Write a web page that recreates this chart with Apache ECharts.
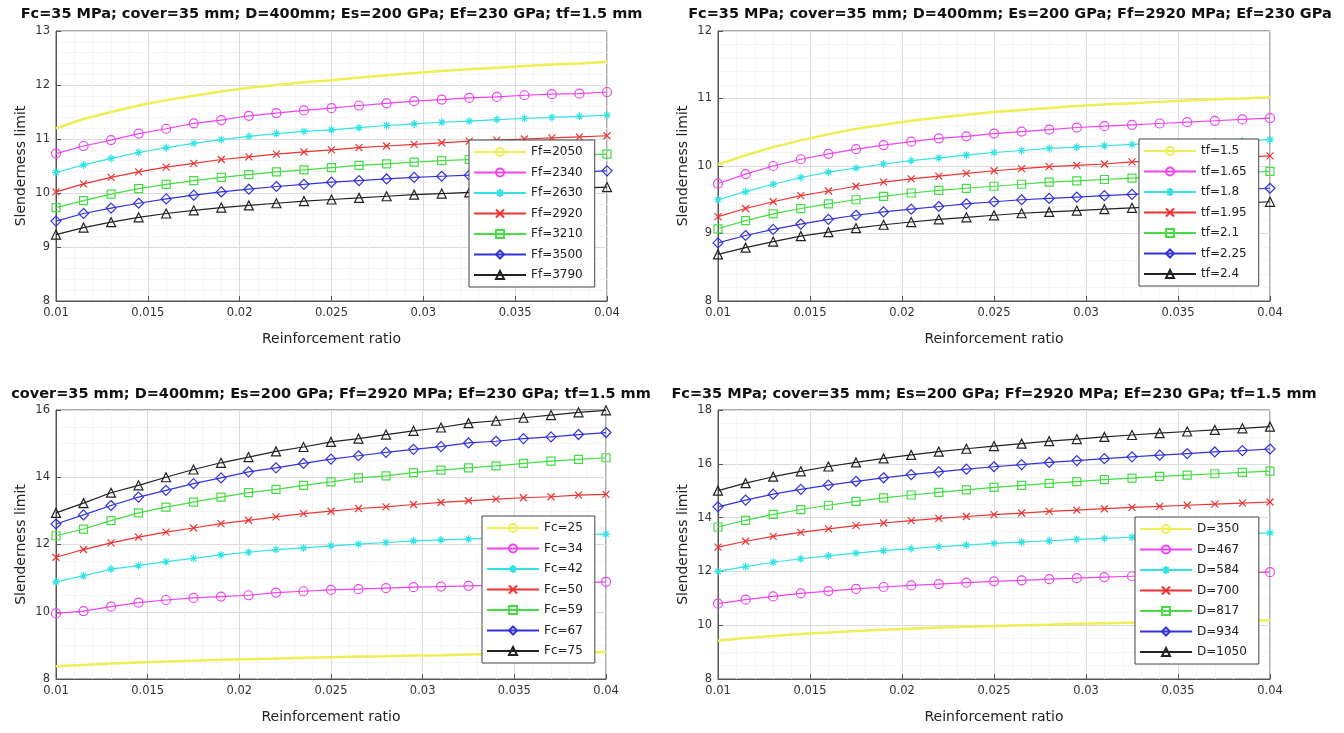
<!DOCTYPE html>
<html><head><meta charset="utf-8">
<script src="https://cdn.jsdelivr.net/npm/echarts@6/dist/echarts.min.js"></script>
<style>html,body{margin:0;padding:0;background:#fff}#c{width:1344px;height:733px}</style>
</head><body><div id="c"></div>
<script>
// ---- data ----
const ratio = [0.01,0.0115,0.013,0.0145,0.016,0.0175,0.019,0.0205,0.022,0.0235,0.025,0.0265,0.028,0.0295,0.031,0.0325,0.034,0.0355,0.037,0.0385,0.04];

const titles = [
  'Fc=35 MPa; cover=35 mm; D=400mm; Es=200 GPa; Ef=230 GPa; tf=1.5 mm',
  'Fc=35 MPa; cover=35 mm; D=400mm; Es=200 GPa; Ff=2920 MPa; Ef=230 GPa',
  'cover=35 mm; D=400mm; Es=200 GPa; Ff=2920 MPa; Ef=230 GPa; tf=1.5 mm',
  'Fc=35 MPa; cover=35 mm; Es=200 GPa; Ff=2920 MPa; Ef=230 GPa; tf=1.5 mm'
];
const xName = 'Reinforcement ratio';
const yName = 'Slenderness limit';

// panel 1 : Ff
const namesFf = ['Ff=2050','Ff=2340','Ff=2630','Ff=2920','Ff=3210','Ff=3500','Ff=3790'];
const ff2050 = [11.2,11.37,11.5,11.62,11.72,11.8,11.88,11.95,12.0,12.05,12.09,12.14,12.18,12.22,12.26,12.29,12.32,12.35,12.38,12.4,12.43];
const ff2340 = [10.73,10.87,10.98,11.1,11.19,11.29,11.35,11.43,11.48,11.53,11.57,11.62,11.66,11.7,11.73,11.76,11.78,11.81,11.83,11.84,11.87];
const ff2630 = [10.38,10.52,10.64,10.75,10.84,10.92,10.99,11.05,11.1,11.14,11.17,11.21,11.25,11.28,11.31,11.33,11.36,11.38,11.4,11.42,11.44];
const ff2920 = [10.02,10.17,10.29,10.39,10.48,10.55,10.62,10.67,10.72,10.76,10.8,10.84,10.87,10.9,10.93,10.96,10.98,11.0,11.02,11.04,11.06];
const ff3210 = [9.73,9.86,9.98,10.08,10.16,10.23,10.29,10.34,10.39,10.43,10.47,10.51,10.54,10.57,10.6,10.62,10.64,10.66,10.68,10.7,10.72];
const ff3500 = [9.48,9.62,9.72,9.81,9.89,9.96,10.02,10.07,10.12,10.16,10.2,10.23,10.26,10.29,10.31,10.33,10.35,10.37,10.38,10.39,10.41];
const ff3790 = [9.23,9.36,9.46,9.55,9.62,9.68,9.73,9.77,9.81,9.85,9.88,9.91,9.94,9.97,9.99,10.01,10.03,10.05,10.07,10.09,10.11];

// panel 2 : tf
const namesTf = ['tf=1.5','tf=1.65','tf=1.8','tf=1.95','tf=2.1','tf=2.25','tf=2.4'];
const tf150 = [10.02,10.16,10.28,10.38,10.47,10.55,10.61,10.67,10.72,10.76,10.8,10.83,10.86,10.89,10.91,10.93,10.95,10.97,10.99,11.0,11.02];
const tf165 = [9.74,9.88,10.0,10.1,10.18,10.25,10.31,10.36,10.41,10.44,10.48,10.51,10.54,10.57,10.59,10.61,10.63,10.65,10.67,10.69,10.71];
const tf180 = [9.5,9.62,9.73,9.83,9.91,9.97,10.03,10.08,10.12,10.16,10.2,10.23,10.26,10.28,10.3,10.32,10.34,10.35,10.36,10.37,10.39];
const tf195 = [9.25,9.37,9.47,9.56,9.63,9.7,9.76,9.81,9.85,9.89,9.93,9.96,9.99,10.01,10.03,10.06,10.08,10.1,10.12,10.13,10.15];
const tf210 = [9.07,9.19,9.29,9.37,9.44,9.5,9.55,9.6,9.64,9.67,9.7,9.73,9.76,9.78,9.8,9.82,9.84,9.86,9.88,9.9,9.92];
const tf225 = [8.86,8.97,9.06,9.14,9.21,9.27,9.32,9.36,9.4,9.44,9.47,9.5,9.52,9.54,9.56,9.58,9.6,9.62,9.63,9.65,9.67];
const tf240 = [8.69,8.79,8.88,8.96,9.02,9.08,9.13,9.17,9.21,9.24,9.27,9.3,9.32,9.34,9.36,9.38,9.4,9.42,9.44,9.45,9.47];

// panel 3 : Fc
const namesFc = ['Fc=25','Fc=34','Fc=42','Fc=50','Fc=59','Fc=67','Fc=75'];
const fc25 = [8.38,8.42,8.46,8.49,8.52,8.54,8.57,8.59,8.61,8.63,8.65,8.67,8.68,8.7,8.71,8.73,8.74,8.76,8.77,8.78,8.8];
const fc34 = [9.95,10.02,10.15,10.27,10.35,10.41,10.45,10.49,10.57,10.61,10.65,10.67,10.7,10.73,10.75,10.77,10.79,10.81,10.84,10.86,10.89];
const fc42 = [10.89,11.07,11.27,11.37,11.49,11.59,11.69,11.77,11.85,11.9,11.96,12.01,12.06,12.11,12.14,12.16,12.2,12.23,12.26,12.29,12.31];
const fc50 = [11.62,11.85,12.05,12.22,12.37,12.49,12.62,12.72,12.82,12.92,12.99,13.07,13.12,13.19,13.25,13.3,13.35,13.39,13.42,13.47,13.49];
const fc59 = [12.26,12.46,12.71,12.94,13.11,13.26,13.41,13.54,13.64,13.76,13.86,13.98,14.04,14.14,14.21,14.28,14.34,14.41,14.48,14.53,14.58];
const fc67 = [12.61,12.88,13.16,13.41,13.61,13.81,13.98,14.16,14.28,14.41,14.54,14.64,14.74,14.83,14.91,15.02,15.07,15.15,15.2,15.27,15.33];
const fc75 = [12.94,13.23,13.54,13.76,14.0,14.23,14.43,14.6,14.77,14.9,15.05,15.15,15.27,15.38,15.48,15.61,15.68,15.77,15.85,15.93,15.99];

// panel 4 : D
const namesD = ['D=350','D=467','D=584','D=700','D=817','D=934','D=1050'];
const d350 = [9.42,9.52,9.6,9.67,9.73,9.78,9.83,9.87,9.91,9.94,9.97,10.0,10.02,10.05,10.07,10.09,10.11,10.13,10.15,10.16,10.18];
const d467 = [10.8,10.95,11.07,11.18,11.27,11.35,11.42,11.48,11.53,11.58,11.63,11.67,11.71,11.75,11.79,11.82,11.85,11.88,11.91,11.94,11.97];
const d584 = [12.0,12.18,12.34,12.47,12.58,12.68,12.77,12.85,12.92,12.98,13.04,13.09,13.14,13.19,13.23,13.27,13.31,13.34,13.37,13.4,13.43];
const d700 = [12.9,13.12,13.3,13.45,13.58,13.7,13.8,13.89,13.97,14.04,14.11,14.17,14.23,14.28,14.33,14.38,14.42,14.46,14.5,14.54,14.58];
const d817 = [13.65,13.9,14.12,14.3,14.46,14.6,14.73,14.84,14.94,15.03,15.12,15.2,15.27,15.34,15.41,15.47,15.53,15.58,15.63,15.68,15.73];
const d934 = [14.4,14.65,14.87,15.05,15.21,15.35,15.48,15.6,15.7,15.8,15.89,15.97,16.05,16.12,16.19,16.26,16.32,16.38,16.44,16.49,16.55];
const d1050 = [15.0,15.28,15.52,15.72,15.9,16.05,16.2,16.33,16.45,16.56,16.66,16.75,16.84,16.92,17.0,17.07,17.14,17.2,17.26,17.32,17.38];

const yRanges = [[8,13,1],[8,12,1],[8,16,2],[8,18,2]];

// ---- styling ----
const colors = ['#eeee55','#ee44ee','#33e3e3','#ee3333','#44dd44','#3333dd','#222222'];
const symbols = ['none','circle','path://M5,0L5,10M0,5L10,5M1.6,1.6L8.4,8.4M8.4,1.6L1.6,8.4','path://M0,0L10,10M10,0L0,10','rect','diamond','triangle'];
const symSizes = [0,9,8,7,8,10,9];

const panels = [
  {names:namesFf, data:[ff2050,ff2340,ff2630,ff2920,ff3210,ff3500,ff3790]},
  {names:namesTf, data:[tf150,tf165,tf180,tf195,tf210,tf225,tf240]},
  {names:namesFc, data:[fc25,fc34,fc42,fc50,fc59,fc67,fc75]},
  {names:namesD,  data:[d350,d467,d584,d700,d817,d934,d1050]}
];

const grids = [
  {left:56, top:31, width:551, height:270},
  {left:718, top:31, width:552, height:270},
  {left:56, top:410, width:550, height:269},
  {left:718, top:410, width:552, height:269}
];
const titleTops = [7, 7, 387, 387];
const legendPos = [
  {left:469, top:140},
  {left:1139, top:139},
  {left:482, top:516},
  {left:1135, top:517}
];

const font = 'DejaVu Sans, Liberation Sans, Arial, sans-serif';
const option = {
  animation:false,
  backgroundColor:'#fff',
  title:[], grid:[], xAxis:[], yAxis:[], legend:[], series:[]
};

grids.forEach((g,i)=>{
  option.grid.push(Object.assign({show:true, borderColor:'#555', borderWidth:1, backgroundColor:'#fff'}, g));
  option.title.push({
    text: titles[i], left: g.left + g.width/2 + (i===1 ? 16 : 0), top: titleTops[i], textAlign:'center', padding:0,
    textStyle:{fontFamily:font, fontSize:14.5, fontWeight:'bold', color:'#111'}
  });
  option.xAxis.push({
    type:'value', gridIndex:i, min:0.01, max:0.04, interval:0.005,
    name:xName, nameLocation:'middle', nameGap:31,
    nameTextStyle:{fontFamily:font, fontSize:14, color:'#222'},
    axisLine:{show:true, lineStyle:{color:'#555'}},
    axisTick:{show:true, inside:true, length:5, lineStyle:{color:'#555'}},
    minorTick:{show:false, splitNumber:5},
    axisLabel:{fontFamily:font, fontSize:11.5, color:'#333', margin:6, formatter:v=>String(+v.toFixed(4))},
    splitLine:{show:true, lineStyle:{color:'#dcdcdc', width:1}},
    minorSplitLine:{show:true, lineStyle:{color:'#ececec', width:1, type:'dotted'}}
  });
  const yr = yRanges[i];
  option.yAxis.push({
    type:'value', gridIndex:i, min:yr[0], max:yr[1], interval:yr[2],
    name:yName, nameLocation:'middle', nameGap:28,
    nameTextStyle:{fontFamily:font, fontSize:14, color:'#222'},
    axisLine:{show:true, lineStyle:{color:'#555'}},
    axisTick:{show:true, inside:true, length:5, lineStyle:{color:'#555'}},
    minorTick:{show:false, splitNumber: yr[2]===1 ? 5 : 4},
    axisLabel:{fontFamily:font, fontSize:11.5, color:'#333', margin:6},
    splitLine:{show:true, lineStyle:{color:'#dcdcdc', width:1}},
    minorSplitLine:{show:true, lineStyle:{color:'#ececec', width:1, type:'dotted'}}
  });
  const p = panels[i];
  option.legend.push({
    orient:'vertical', left:legendPos[i].left, top:legendPos[i].top,
    data:p.names, itemWidth:52, itemHeight:10, itemGap:8.5,
    padding:[6,12,6,4],
    backgroundColor:'#fff', borderColor:'#444', borderWidth:1,
    textStyle:{fontFamily:font, fontSize:12, color:'#222'},
    selectedMode:false, z:10
  });
  p.names.forEach((nm,k)=>{
    const pts = ratio.map((x,j)=>[x, p.data[k][j]]);
    option.series.push({
      type:'line', name:nm, xAxisIndex:i, yAxisIndex:i, data:pts,
      symbol:symbols[k], symbolSize:symSizes[k], showSymbol: k!==0,
      lineStyle:{color:colors[k], width: k===0 ? 2.5 : 1.2},
      itemStyle:{color:'rgba(255,255,255,0)', borderColor:colors[k], borderWidth:1.2},
      emphasis:{disabled:true}, silent:true, z:2+k
    });
  });
});

const chart = echarts.init(document.getElementById('c'), null, {renderer:'canvas'});
chart.setOption(option);
</script>
</body></html>
